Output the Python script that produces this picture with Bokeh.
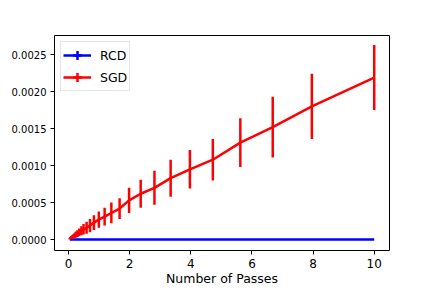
import numpy as np
from bokeh.plotting import figure
from bokeh.models import (Range1d, FixedTicker, NumeralTickFormatter, Legend, LegendItem,
                          ColumnDataSource)
from bokeh.embed import file_html
from bokeh.resources import INLINE

# ---- data ----
passes = [10.0, 7.96, 6.68, 5.62, 4.72, 3.97, 3.34, 2.81, 2.36, 1.98, 1.67, 1.40, 1.18,
          0.99, 0.83, 0.70, 0.59, 0.49, 0.42, 0.35, 0.29, 0.25, 0.21, 0.17, 0.15, 0.12,
          0.10, 0.085, 0.07, 0.06, 0.05, 0.04]
sgd_mean = [0.00219, 0.00180, 0.00152, 0.00131, 0.00108, 0.00095, 0.00083, 0.00070,
            0.00062, 0.00053, 0.00042, 0.00036, 0.00031, 0.00027, 0.00023, 0.00019,
            0.00016, 0.00014, 0.00012, 0.00010, 0.00008, 0.00007, 0.00006, 0.00005,
            0.00004, 0.00004, 0.00003, 0.00003, 0.00002, 0.00002, 0.00002, 0.00001]
sgd_err = [0.00044, 0.00044, 0.00041, 0.00033, 0.00028, 0.00026, 0.00025, 0.00023,
           0.00019, 0.00017, 0.00014, 0.00014, 0.00012, 0.00011, 0.00010, 0.00009,
           0.00008, 0.00007, 0.00006, 0.00005, 0.000045, 0.00004, 0.000035, 0.00003,
           0.000025, 0.00002, 0.00002, 0.000015, 0.000012, 0.00001, 0.00001, 0.000008]
rcd_mean = [0.0] * len(passes)
rcd_err = [0.0] * len(passes)

x_ticks = [0, 2, 4, 6, 8, 10]
y_ticks = [0.0, 0.0005, 0.0010, 0.0015, 0.0020, 0.0025]

FONT = "DejaVu Sans"

p = figure(width=432, height=288, output_backend="svg", toolbar_location=None,
           x_range=Range1d(-0.46, 10.5), y_range=Range1d(-0.000147, 0.002758),
           min_border_left=54, min_border_right=43, min_border_top=35, min_border_bottom=36)
p.background_fill_color = "white"
p.border_fill_color = "white"
p.outline_line_color = "black"
p.outline_line_width = 1
p.grid.visible = False

def src(mean, err):
    m = np.array(mean)
    e = np.array(err)
    return ColumnDataSource(dict(x=passes, y=m, lo=m - e, hi=m + e))

rcd_src = src(rcd_mean, rcd_err)
sgd_src = src(sgd_mean, sgd_err)

# RCD
rcd_line = p.line("x", "y", source=rcd_src, line_color="blue", line_width=2.5)
p.segment(x0="x", y0="lo", x1="x", y1="hi", source=rcd_src, line_color="blue", line_width=2.5)
rcd_key = p.scatter(x=[-100.0], y=[-100.0], marker="cross", size=10,
                    line_color="blue", line_width=2.5)

# SGD
sgd_line = p.line("x", "y", source=sgd_src, line_color="red", line_width=2.5)
p.segment(x0="x", y0="lo", x1="x", y1="hi", source=sgd_src, line_color="red", line_width=2.5)
sgd_key = p.scatter(x=[-100.0], y=[-100.0], marker="cross", size=10,
                    line_color="red", line_width=2.5)

# axes
for ax in (p.xaxis[0], p.yaxis[0]):
    ax.axis_line_color = None
    ax.major_tick_line_color = "black"
    ax.major_tick_line_width = 1
    ax.major_tick_out = 4
    ax.major_tick_in = 0
    ax.minor_tick_line_color = None
    ax.major_label_text_font = FONT
    ax.major_label_text_color = "black"
    ax.major_label_standoff = 4

p.xaxis.ticker = FixedTicker(ticks=x_ticks)
p.xaxis.major_label_text_font_size = "12px"
p.xaxis.axis_label = "Number of Passes"
p.xaxis.axis_label_text_font = FONT
p.xaxis.axis_label_text_font_size = "12.5px"
p.xaxis.axis_label_text_font_style = "normal"
p.xaxis.axis_label_text_color = "black"
p.xaxis.axis_label_standoff = 0

p.yaxis.ticker = FixedTicker(ticks=y_ticks)
p.yaxis.formatter = NumeralTickFormatter(format="0.0000")
p.yaxis.major_label_text_font_size = "10px"

legend = Legend(items=[LegendItem(label="RCD", renderers=[rcd_line, rcd_key]),
                       LegendItem(label="SGD", renderers=[sgd_line, sgd_key])],
                location="top_left")
legend.margin = 6
legend.padding = 2
legend.spacing = -3
legend.glyph_width = 28
legend.glyph_height = 22
legend.label_height = 19
legend.label_standoff = 9
legend.label_text_font = FONT
legend.label_text_font_size = "12.5px"
legend.label_text_color = "black"
legend.border_line_color = "#cccccc"
legend.border_line_width = 1
legend.background_fill_color = "white"
legend.background_fill_alpha = 0.8
p.add_layout(legend)

open("out.html", "w").write(file_html(p, INLINE))
